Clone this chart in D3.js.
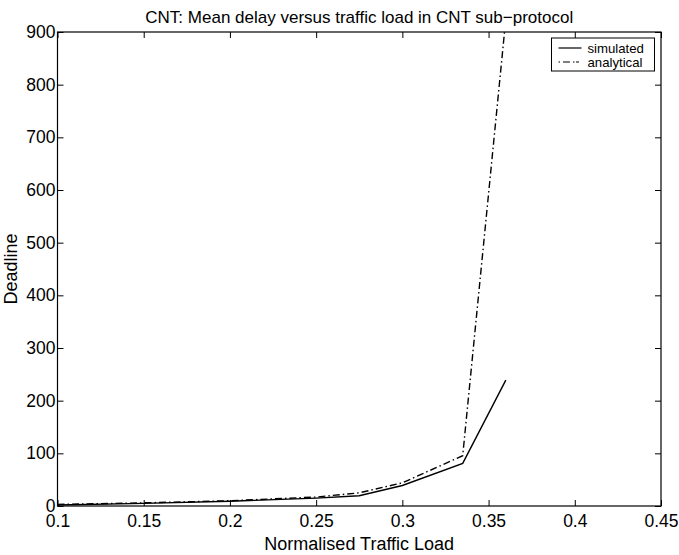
<!DOCTYPE html>
<html>
<head>
<meta charset="utf-8">
<script src="https://cdn.jsdelivr.net/npm/d3@7"></script>
<style>
  body { margin: 0; background: #fff; }
  text { font-family: "Liberation Sans", Arial, Helvetica, sans-serif; fill: #000; }
</style>
</head>
<body>
<div id="chart"></div>
<script>
let svgWidth = 679;
let svgHeight = 555;

let margin = { top: 32, right: 18, bottom: 49, left: 57.5 };
let chartWidth = svgWidth - margin.left - margin.right;
let chartHeight = svgHeight - margin.top - margin.bottom;

// data
let loads = [0.1, 0.15, 0.2, 0.25, 0.275, 0.3, 0.335, 0.36];
let simulated = [2, 5, 9, 15, 19.5, 39, 81, 239];
let analytical = [3, 6, 10, 17, 25, 44, 95.5, 925];
let xTicks = [0.1, 0.15, 0.2, 0.25, 0.3, 0.35, 0.4, 0.45];
let yTicks = [0, 100, 200, 300, 400, 500, 600, 700, 800, 900];

let svg = d3.select("#chart")
  .append("svg")
  .attr("width", svgWidth)
  .attr("height", svgHeight);

let chartGroup = svg.append("g")
  .attr("transform", `translate(${margin.left}, ${margin.top})`);

let x = d3.scaleLinear().domain([0.1, 0.45]).range([0, chartWidth]);
let y = d3.scaleLinear().domain([0, 900]).range([chartHeight, 0]);

chartGroup.append("clipPath").attr("id", "clip")
  .append("rect").attr("width", chartWidth).attr("height", chartHeight);

// axes, ticks pointing inward on all four sides
let fmt = d => String(d);
let bottomAxis = d3.axisBottom(x).tickValues(xTicks).tickFormat(fmt).tickSizeInner(-6).tickSizeOuter(0).tickPadding(9);
let topAxis = d3.axisTop(x).tickValues(xTicks).tickFormat("").tickSizeInner(-6).tickSizeOuter(0);
let leftAxis = d3.axisLeft(y).tickValues(yTicks).tickFormat(fmt).tickSizeInner(-6).tickSizeOuter(0).tickPadding(2);
let rightAxis = d3.axisRight(y).tickValues(yTicks).tickFormat("").tickSizeInner(-6).tickSizeOuter(0);

function styleAxis(g) {
  g.select(".domain").remove();
  g.selectAll("line").attr("stroke", "#000").attr("stroke-width", 1);
  g.selectAll("text").attr("font-size", "17.5px").attr("fill", "#000")
    .style("font-family", '"Liberation Sans", Arial, sans-serif');
}

chartGroup.append("g").attr("transform", `translate(0, ${chartHeight})`).call(bottomAxis).call(styleAxis);
chartGroup.append("g").call(topAxis).call(styleAxis);
chartGroup.append("g").call(leftAxis).call(styleAxis);
chartGroup.append("g").attr("transform", `translate(${chartWidth}, 0)`).call(rightAxis).call(styleAxis);

chartGroup.append("rect")
  .attr("width", chartWidth).attr("height", chartHeight)
  .attr("fill", "none").attr("stroke", "#000").attr("stroke-width", 1.2);

// lines
let simLine = d3.line().x((d, i) => x(loads[i])).y(d => y(d));

chartGroup.append("path")
  .datum(simulated)
  .attr("clip-path", "url(#clip)")
  .attr("d", simLine)
  .attr("fill", "none").attr("stroke", "#000").attr("stroke-width", 1.4);

chartGroup.append("path")
  .datum(analytical)
  .attr("clip-path", "url(#clip)")
  .attr("d", simLine)
  .attr("fill", "none").attr("stroke", "#000").attr("stroke-width", 1.4)
  .attr("stroke-dasharray", "7,3,1.5,3");

// legend
let legend = chartGroup.append("g").attr("transform", `translate(${551.5 - margin.left}, ${38 - margin.top})`);
legend.append("rect").attr("width", 103).attr("height", 33)
  .attr("fill", "#fff").attr("stroke", "#000").attr("stroke-width", 1);
legend.append("line").attr("x1", 7).attr("x2", 30).attr("y1", 10).attr("y2", 10)
  .attr("stroke", "#000").attr("stroke-width", 1.2);
legend.append("line").attr("x1", 7).attr("x2", 30).attr("y1", 24).attr("y2", 24)
  .attr("stroke", "#000").attr("stroke-width", 1.2).attr("stroke-dasharray", "1.5,3,7,3,1.5");
legend.append("text").attr("x", 36).attr("y", 14.5).attr("font-size", "13.2px").text("simulated");
legend.append("text").attr("x", 36).attr("y", 28.5).attr("font-size", "13.2px").text("analytical");

// title & labels
svg.append("text")
  .attr("x", margin.left + chartWidth / 2).attr("y", 23)
  .attr("text-anchor", "middle").attr("font-size", "17px")
  .text("CNT: Mean delay versus traffic load in CNT sub\u2212protocol");

svg.append("text")
  .attr("x", margin.left + chartWidth / 2).attr("y", 550)
  .attr("text-anchor", "middle").attr("font-size", "18px")
  .text("Normalised Traffic Load");

svg.append("text")
  .attr("transform", `translate(17, ${margin.top + chartHeight / 2}) rotate(-90)`)
  .attr("text-anchor", "middle").attr("font-size", "18px")
  .text("Deadline");
</script>
</body>
</html>
